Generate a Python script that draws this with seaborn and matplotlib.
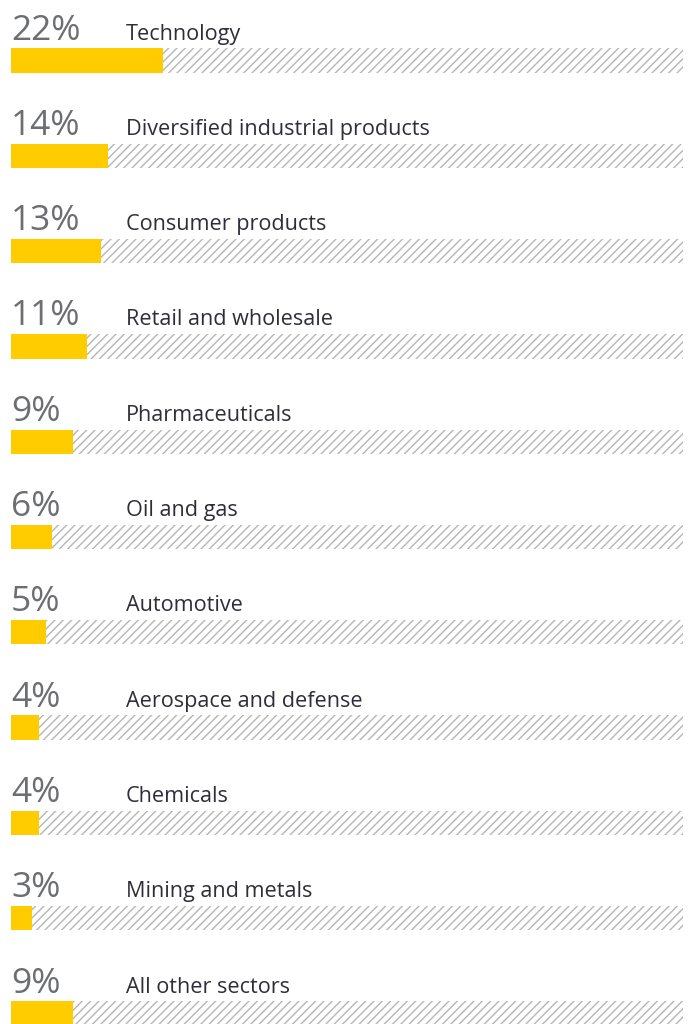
import matplotlib
matplotlib.use("Agg")
import matplotlib.pyplot as plt
import seaborn as sns
import pandas as pd

sectors = ["Technology", "Diversified industrial products", "Consumer products",
           "Retail and wholesale", "Pharmaceuticals", "Oil and gas", "Automotive",
           "Aerospace and defense", "Chemicals", "Mining and metals", "All other sectors"]
shares = [22, 14, 13, 11, 9, 6, 5, 4, 4, 3, 9]
full = [100] * len(sectors)

sns.set_theme(style="white")
plt.rcParams['font.family'] = ['Open Sans', 'DejaVu Sans']
plt.rcParams['hatch.color'] = '#b5b5b5'
plt.rcParams['hatch.linewidth'] = 1.0

df = pd.DataFrame({"sector": sectors, "share": shares, "full": full})

W, H = 689, 1024
fig = plt.figure(figsize=(W / 100, H / 100), dpi=100)
ax = fig.add_axes([11 / W, 0, 672 / W, 1])

sns.barplot(data=df, y="sector", x="full", color="white", orient="h",
            width=0.255, ax=ax, linewidth=0, hatch="////", saturation=1)
sns.barplot(data=df, y="sector", x="share", color="#ffcc00", orient="h",
            width=0.255, ax=ax, linewidth=0, saturation=1)
for p in ax.patches[:len(sectors)]:
    p.set_edgecolor('#b5b5b5')
    p.set_linewidth(0)

step = 95.3
c0 = 60.5
ax.set_ylim((H - c0) / step, -c0 / step)
ax.set_xlim(0, 672 / 6.9)
ax.axis("off")

for i, (s, v) in enumerate(zip(sectors, shares)):
    ax.text(0, i - 0.22, f"{v}%", fontsize=25.5, color="#6d6e71", va="baseline", ha="left")
    ax.text(115 / 6.9, i - 0.22, s, fontsize=15.6, color="#2e2e38", va="baseline", ha="left")

fig.savefig("out.png", dpi=100)
